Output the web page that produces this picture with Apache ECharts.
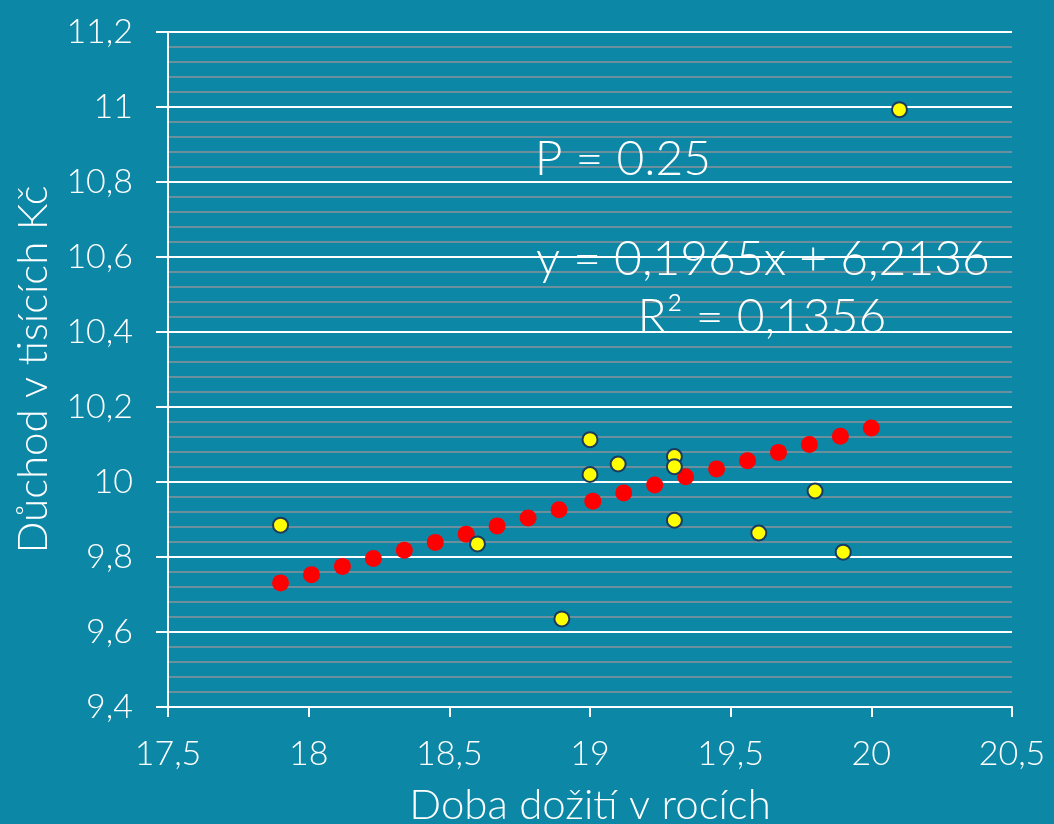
<!DOCTYPE html>
<html>
<head>
<meta charset="utf-8">
<script src="https://cdn.jsdelivr.net/npm/echarts@6/dist/echarts.min.js"></script>
<style>
html,body{margin:0;padding:0;background:#0d87a6;}
#c{width:1054px;height:824px;}
</style>
</head>
<body>
<div id="c"></div>
<script>
// Observed data (yellow points)
var obsX = [17.9, 18.6, 18.9, 19.0, 19.0, 19.1, 19.3, 19.3, 19.3, 19.6, 19.8, 19.9, 20.1];
var obsY = [9.885, 9.835, 9.635, 10.113, 10.02, 10.048, 10.068, 10.041, 9.898, 9.864, 9.976, 9.813, 10.993];
// Trend points (red)
var fitX = [17.9, 18.01, 18.12, 18.23, 18.34, 18.45, 18.56, 18.67, 18.78, 18.89, 19.01, 19.12, 19.23, 19.34, 19.45, 19.56, 19.67, 19.78, 19.89, 20.0];
var fitY = [9.731, 9.753, 9.775, 9.796, 9.818, 9.839, 9.861, 9.883, 9.904, 9.926, 9.949, 9.971, 9.992, 10.014, 10.035, 10.057, 10.079, 10.100, 10.122, 10.144];
// Texts
var xAxisTitle = 'Doba dožití v rocích';
var yAxisTitle = 'Důchod v tisících Kč';
var annP = 'P = 0.25';
var annEq = 'y = 0,1965x + 6,2136';
var annR2 = 'R² = 0,1356';

var FONT = 'Lato, "Open Sans", sans-serif';
function fmt(v){ return String(Math.round(v*10)/10).replace('.', ','); }
function pairs(xs, ys){ return xs.map(function(x,i){ return [x, ys[i]]; }); }

var chart = echarts.init(document.getElementById('c'));
chart.setOption({
  backgroundColor: '#0d87a6',
  animation: false,
  grid: {left: 168, right: 42, top: 32, bottom: 117, outerBoundsMode: 'none', containLabel: false},
  xAxis: {
    type: 'value', min: 17.5, max: 20.5, interval: 0.5,
    name: xAxisTitle, nameLocation: 'middle', nameGap: 77,
    nameTextStyle: {color: '#ffffff', fontSize: 42, fontWeight: 300, fontFamily: FONT},
    axisLine: {show: true, lineStyle: {color: '#ffffff', width: 2}},
    axisTick: {show: true, length: 10, lineStyle: {color: '#ffffff', width: 2}},
    axisLabel: {color: '#ffffff', fontSize: 34, fontWeight: 300, fontFamily: FONT, margin: 30, formatter: fmt},
    splitLine: {show: false},
    z: 2
  },
  yAxis: [{
    type: 'value', min: 9.4, max: 11.2, interval: 0.2,
    name: yAxisTitle, nameLocation: 'middle', nameGap: 114, nameRotate: 90,
    nameTextStyle: {color: '#ffffff', fontSize: 42, fontWeight: 300, fontFamily: FONT},
    axisLine: {show: true, lineStyle: {color: '#ffffff', width: 2}},
    axisTick: {show: true, length: 12, lineStyle: {color: '#ffffff', width: 2}},
    axisLabel: {color: '#ffffff', fontSize: 34, fontWeight: 300, fontFamily: FONT, margin: 35, formatter: fmt},
    splitLine: {show: true, lineStyle: {color: '#ffffff', width: 2}},
    z: 2
  }, {
    type: 'value', min: 9.4, max: 11.2, interval: 0.04, position: 'left',
    axisLine: {show: false}, axisTick: {show: false}, axisLabel: {show: false},
    splitLine: {show: true, lineStyle: {color: '#6b8f9c', width: 2}},
    z: 0
  }],
  graphic: [
    {type: 'text', x: 623, y: 160, style: {text: annP, fill: '#ffffff', font: '300 48px ' + FONT, textAlign: 'center', textVerticalAlign: 'middle'}, z: 100},
    {type: 'text', x: 763, y: 260, style: {text: annEq, fill: '#ffffff', font: '300 48px ' + FONT, textAlign: 'center', textVerticalAlign: 'middle'}, z: 100},
    {type: 'text', x: 762, y: 318, style: {text: annR2, fill: '#ffffff', font: '300 48px ' + FONT, textAlign: 'center', textVerticalAlign: 'middle'}, z: 100}
  ],
  series: [
    {
      type: 'scatter', yAxisIndex: 0, data: pairs(fitX, fitY), symbolSize: 17,
      itemStyle: {color: '#ff0000', opacity: 1}, z: 3
    },
    {
      type: 'scatter', yAxisIndex: 0, data: pairs(obsX, obsY), symbolSize: 15,
      itemStyle: {color: '#ffff00', borderColor: '#1c3a5e', borderWidth: 2, opacity: 1}, z: 4
    }
  ]
});
</script>
</body>
</html>
